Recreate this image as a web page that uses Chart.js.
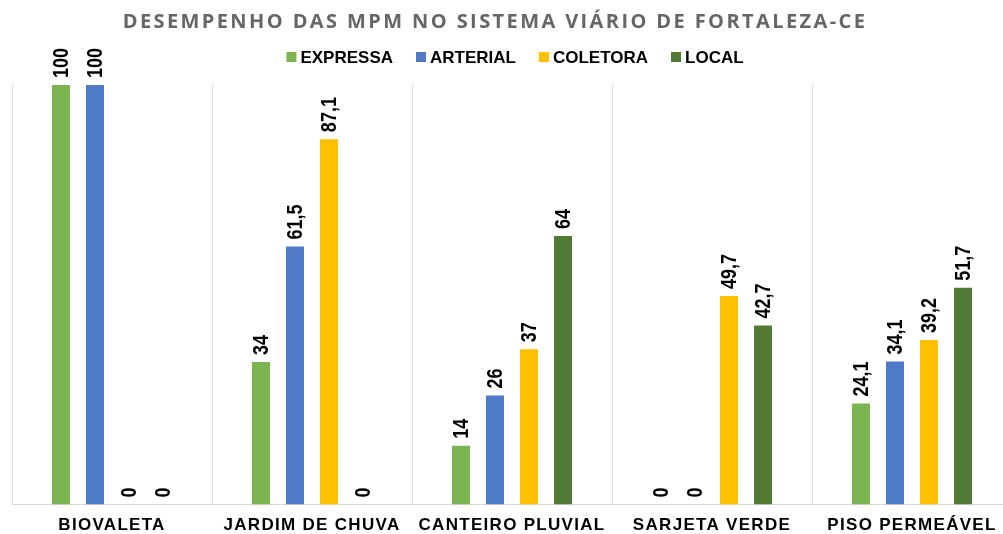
<!DOCTYPE html>
<html lang="pt-BR">
<head>
<meta charset="utf-8">
<title>Desempenho das MPM</title>
<script src="https://cdn.jsdelivr.net/npm/chart.js"></script>
<style>
  html, body { margin: 0; padding: 0; background: #fff; overflow: hidden; }
  #wrap { width: 1015px; height: 534px; }
</style>
</head>
<body>
<div id="wrap"><canvas id="chart" width="1015" height="534"></canvas></div>
<script>
  // dados
  const categorias = ['BIOVALETA', 'JARDIM DE CHUVA', 'CANTEIRO PLUVIAL', 'SARJETA VERDE', 'PISO PERMEÁVEL'];
  const expressa = [100, 34, 14, 0, 24.1];
  const arterial = [100, 61.5, 26, 0, 34.1];
  const coletora = [0, 87.1, 37, 49.7, 39.2];
  const local = [0, 0, 64, 42.7, 51.7];

  const titulo = 'DESEMPENHO DAS MPM NO SISTEMA VIÁRIO DE FORTALEZA-CE';
  const cores = ['#7CB452', '#4E7AC7', '#FFC000', '#527A35'];

  const fmt = v => String(v).replace('.', ',');

  // titulo + legenda desenhados a mao (centros diferentes no original)
  const cabecalho = {
    id: 'cabecalho',
    beforeDraw(chart) {
      // espaçamento das letras do eixo x
      chart.ctx.letterSpacing = '1.3px';
    },
    beforeDatasetsDraw(chart) {
      chart.ctx.letterSpacing = '0px';
    },
    afterDraw(chart) {
      const ctx = chart.ctx;
      ctx.save();
      ctx.letterSpacing = '2.4px';
      ctx.font = 'bold 20px "Open Sans"';
      ctx.fillStyle = '#666666';
      ctx.textAlign = 'center';
      ctx.textBaseline = 'middle';
      ctx.fillText(titulo, 495, 22);

      ctx.letterSpacing = '0px';
      ctx.font = 'bold 17px "Liberation Sans"';
      ctx.fillStyle = '#000';
      ctx.textAlign = 'left';
      const ds = chart.data.datasets;
      let total = 0;
      const larg = ds.map(d => ctx.measureText(d.label).width);
      larg.forEach(w => total += 14 + w);
      total += 23 * (ds.length - 1);
      let x = 515 - total / 2;
      ds.forEach((d, i) => {
        ctx.fillStyle = d.backgroundColor;
        ctx.fillRect(x, 52, 10, 10);
        ctx.fillStyle = '#000';
        ctx.fillText(d.label, x + 14, 58);
        x += 14 + larg[i] + 23;
      });
      ctx.restore();
    },
    afterDatasetsDraw(chart) {
      // rótulos verticais acima das barras
      const ctx = chart.ctx;
      ctx.save();
      ctx.font = 'bold 18px "Liberation Sans"';
      ctx.fillStyle = '#000';
      ctx.textAlign = 'left';
      ctx.textBaseline = 'middle';
      chart.data.datasets.forEach((d, i) => {
        chart.getDatasetMeta(i).data.forEach((bar, j) => {
          ctx.save();
          ctx.translate(bar.x, bar.y - 7);
          ctx.rotate(-Math.PI / 2);
          ctx.scale(1, 1.25);
          ctx.fillText(fmt(d.data[j]), 0, 1);
          ctx.restore();
        });
      });
      ctx.restore();
    }
  };

  const nomes = ['EXPRESSA', 'ARTERIAL', 'COLETORA', 'LOCAL'];
  const series = [expressa, arterial, coletora, local];

  new Chart(document.getElementById('chart'), {
    type: 'bar',
    data: {
      labels: categorias,
      datasets: series.map((s, i) => ({
        label: nomes[i],
        data: s,
        backgroundColor: cores[i],
        categoryPercentage: 0.68,
        barPercentage: 0.53
      }))
    },
    options: {
      responsive: false,
      animation: false,
      layout: { padding: { top: 85, left: 12, right: 3, bottom: -13 } },
      plugins: {
        legend: { display: false },
        title: { display: false },
        tooltip: { enabled: false }
      },
      scales: {
        y: { display: false, min: 0, max: 100 },
        x: {
          grid: { color: '#d9d9d9', drawTicks: false },
          border: { color: '#d9d9d9' },
          ticks: {
            color: '#000',
            padding: 11,
            maxRotation: 0,
            autoSkip: false,
            font: { family: 'Liberation Sans', size: 17, weight: 'bold' }
          }
        }
      }
    },
    plugins: [cabecalho]
  });
</script>
</body>
</html>
